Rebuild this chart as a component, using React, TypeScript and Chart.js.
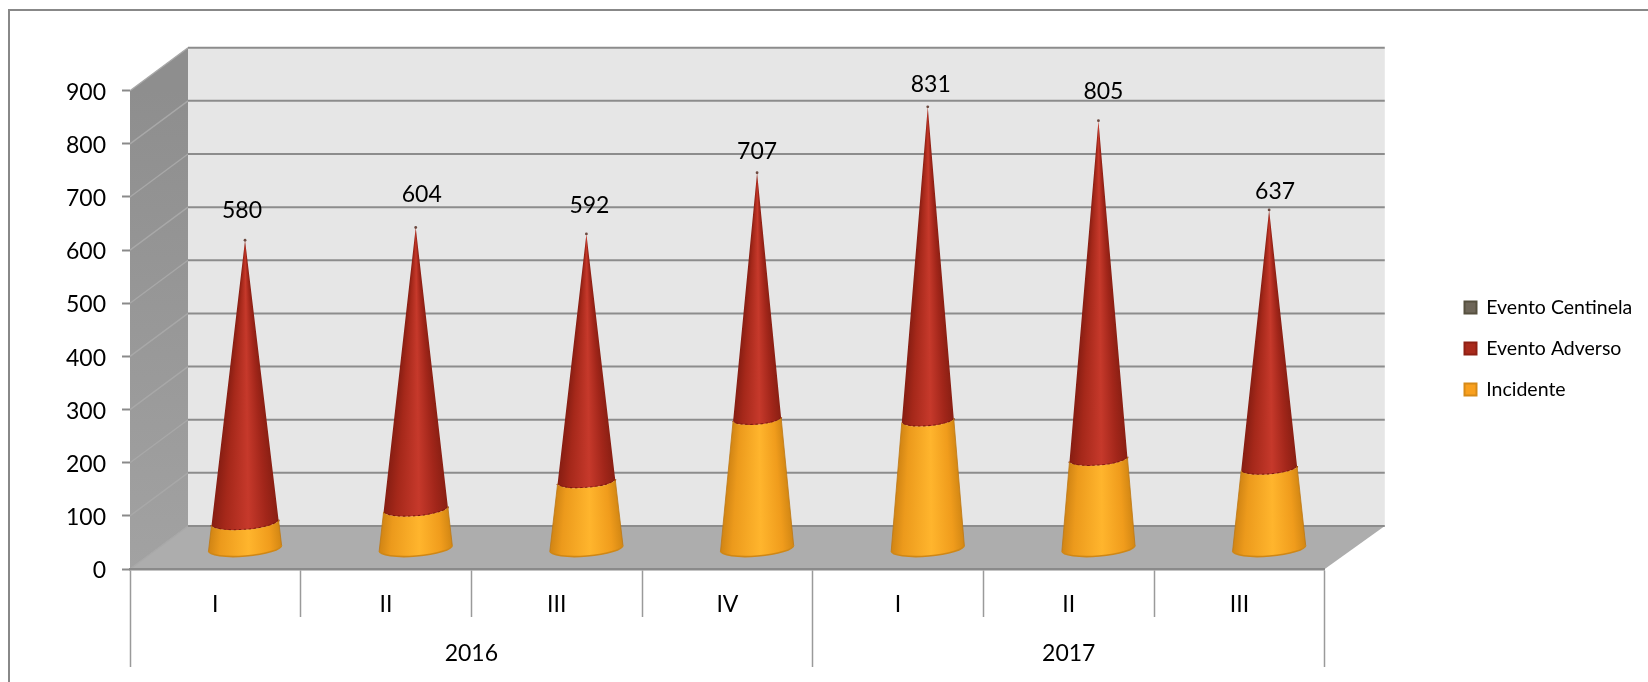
import React, { useEffect, useRef } from "react";
import { Chart, BarController, BarElement, registerables } from "chart.js";

const quarters = ["I", "II", "III", "IV", "I", "II", "III"];
const years = ["2016", "2017"];
const quartersPerYear = [4, 3];
const incidente = [49, 74, 126, 243, 241, 168, 151];
const eventoAdverso = [530, 529, 465, 463, 588, 636, 485];
const eventoCentinela = [1, 1, 1, 1, 2, 1, 1];

const FONT = "Lato, 'Open Sans', sans-serif";
const DEPTH_X = 58;
const DEPTH_Y = -43;
const MID_X = 29.7;
const MID_Y = -20.5;
const TILT = (-4.6 * Math.PI) / 180;
const FLAT = 0.22;

const RAMPS: Record<string, [number, string][]> = {
  red: [
    [0, "#861d12"],
    [0.2, "#a5281a"],
    [0.55, "#c6392b"],
    [0.82, "#a2261a"],
    [1, "#8a1f13"],
  ],
  orange: [
    [0, "#d08414"],
    [0.16, "#ec9a1c"],
    [0.55, "#ffb52d"],
    [0.85, "#f09c1c"],
    [1, "#d48814"],
  ],
};

function rimPoint(cx: number, cy: number, rx: number, ry: number, th: number) {
  const ex = rx * Math.cos(th);
  const ey = ry * Math.sin(th);
  return [cx + ex * Math.cos(TILT) - ey * Math.sin(TILT), cy + ex * Math.sin(TILT) + ey * Math.cos(TILT)];
}

class ConeElement extends BarElement {
  static id = "coneElement";
  draw(ctx: CanvasRenderingContext2D) {
    const { x, y, base, width } = (this as any).getProps(["x", "y", "base", "width"]);
    const { chart, dataset, index } = (this as any).coneInfo;
    const yScale = chart.scales.y;
    const total = chart.data.datasets.reduce((s: number, d: any) => s + d.data[index], 0);
    const zero = yScale.getPixelForValue(0);
    const apex = yScale.getPixelForValue(total);
    const R = width / 2;
    const cx = x + MID_X;
    const radius = (p: number) => R * ((p - apex) / (zero - apex));
    const r0 = radius(base);
    const r1 = Math.max(radius(y), 0);
    const y0 = base + MID_Y;
    const y1 = y + MID_Y;
    const kind = dataset.coneKind;
    ctx.save();
    if (kind === "tip") {
      ctx.fillStyle = "#6b4a40";
      ctx.beginPath();
      ctx.arc(cx, y1, 1.4, 0, Math.PI * 2);
      ctx.fill();
      ctx.restore();
      return;
    }
    // visible front of the frustum: lower rim, side, lower rim of the top
    const b1 = rimPoint(cx, y1, r1, r1 * FLAT, Math.PI);
    ctx.save();
    ctx.beginPath();
    ctx.ellipse(cx, y0, r0, r0 * FLAT, TILT, 0, Math.PI);
    ctx.lineTo(b1[0], b1[1]);
    ctx.ellipse(cx, y1, r1, r1 * FLAT, TILT, Math.PI, 0, true);
    ctx.closePath();
    ctx.clip();
    const rows0 = Math.floor(y1 - 4);
    const rows1 = Math.ceil(y0 + r0 * FLAT + 5);
    for (let row = rows0; row < rows1; row++) {
      const r = Math.max(radius(row + 0.5 - MID_Y), 0.6);
      const g = ctx.createLinearGradient(cx - r, 0, cx + r, 0);
      RAMPS[kind].forEach(([s, col]) => g.addColorStop(s, col));
      ctx.fillStyle = g;
      ctx.fillRect(cx - r - 8, row, 2 * r + 16, 1);
    }
    ctx.restore();
    // silhouette edges and the lower rim
    const a0 = rimPoint(cx, y0, r0, r0 * FLAT, 0);
    const a1 = rimPoint(cx, y1, r1, r1 * FLAT, 0);
    const b0 = rimPoint(cx, y0, r0, r0 * FLAT, Math.PI);
    if (kind === "orange") {
      ctx.strokeStyle = "rgba(190,120,20,0.8)";
      ctx.lineWidth = 1;
      ctx.beginPath();
      ctx.moveTo(a0[0], a0[1]);
      ctx.lineTo(a1[0], a1[1]);
      ctx.moveTo(b0[0], b0[1]);
      ctx.lineTo(b1[0], b1[1]);
      ctx.stroke();
    }
    ctx.beginPath();
    ctx.ellipse(cx, y0, r0, r0 * FLAT, TILT, 0, Math.PI);
    if (kind === "orange") {
      ctx.strokeStyle = "#cf8716";
      ctx.lineWidth = 1.6;
    } else {
      ctx.strokeStyle = "#7c1a10";
      ctx.lineWidth = 2.2;
      ctx.setLineDash([2.4, 2.6]);
    }
    ctx.stroke();
    ctx.restore();
  }
}

class ConeController extends BarController {
  static id = "cone";
  static defaults = { ...(BarController as any).defaults, dataElementType: "coneElement" };
  static overrides = (BarController as any).overrides;
  draw() {
    const self = this as any;
    self._cachedMeta.data.forEach((el: any, index: number) => {
      el.coneInfo = { chart: self.chart, dataset: self.getDataset(), index };
    });
    super.draw();
  }
}

Chart.register(...registerables, ConeElement as any, ConeController as any);

const box3d = {
  id: "box3d",
  beforeDraw(chart: any) {
    const { ctx, chartArea: a, scales } = chart;
    const y = scales.y;
    const { left, right, top, bottom } = a;
    ctx.save();
    ctx.fillStyle = "#ffffff";
    ctx.fillRect(0, 0, chart.width, chart.height);
    // outer frame
    ctx.strokeStyle = "#888888";
    ctx.lineWidth = 2;
    ctx.beginPath();
    ctx.moveTo(9, chart.height);
    ctx.lineTo(9, 10);
    ctx.lineTo(chart.width, 10);
    ctx.stroke();
    const bl = left + DEPTH_X;
    const br = right + DEPTH_X + 2;
    // back wall
    ctx.fillStyle = "#e6e6e6";
    ctx.fillRect(bl, top + DEPTH_Y, br - bl, bottom - top);
    // floor
    ctx.fillStyle = "#adadad";
    ctx.beginPath();
    ctx.moveTo(left, bottom);
    ctx.lineTo(bl, bottom + DEPTH_Y);
    ctx.lineTo(br, bottom + DEPTH_Y);
    ctx.lineTo(right, bottom);
    ctx.closePath();
    ctx.fill();
    // left wall
    const g = ctx.createLinearGradient(0, top, 0, bottom);
    g.addColorStop(0, "#8e8e8e");
    g.addColorStop(1, "#a2a2a2");
    ctx.fillStyle = g;
    ctx.beginPath();
    ctx.moveTo(left, top);
    ctx.lineTo(bl, top + DEPTH_Y);
    ctx.lineTo(bl, bottom + DEPTH_Y);
    ctx.lineTo(left, bottom);
    ctx.closePath();
    ctx.fill();
    // gridlines on the walls
    for (const t of y.ticks) {
      const py = y.getPixelForValue(t.value);
      ctx.strokeStyle = "#a8a8a8";
      ctx.lineWidth = 1.4;
      ctx.beginPath();
      ctx.moveTo(left, py);
      ctx.lineTo(bl, py + DEPTH_Y);
      ctx.stroke();
      ctx.strokeStyle = "#8c8c8c";
      ctx.lineWidth = 2;
      ctx.beginPath();
      ctx.moveTo(bl, py + DEPTH_Y);
      ctx.lineTo(br, py + DEPTH_Y);
      ctx.stroke();
    }
    ctx.restore();
  },
};

const coneLabels = {
  id: "coneLabels",
  afterDatasetsDraw(chart: any, _args: any, opts: any) {
    const { ctx, scales } = chart;
    const meta = chart.getDatasetMeta(0);
    ctx.save();
    ctx.font = `23px ${FONT}`;
    ctx.fillStyle = "#000000";
    ctx.textAlign = "center";
    ctx.textBaseline = "middle";
    meta.data.forEach((el: any, i: number) => {
      const total = chart.data.datasets.reduce((s: number, d: any) => s + d.data[i], 0);
      const px = el.x + MID_X + opts.nudgeX[i];
      const py = scales.y.getPixelForValue(total) + MID_Y + opts.nudgeY[i];
      ctx.fillText(String(total), px, py);
    });
    ctx.restore();
  },
};

const legendPlacer = {
  id: "legendPlacer",
  afterLayout(chart: any, _args: any, opts: any) {
    const l = chart.legend;
    l.left = opts.left;
    l.right = chart.width;
    l.top = opts.top;
    l.bottom = chart.height;
  },
};

export default function App() {
  const ref = useRef<HTMLCanvasElement | null>(null);
  useEffect(() => {
    const yearEdges = quartersPerYear.reduce((acc: number[], n) => [...acc, acc[acc.length - 1] + n], [0]);
    const yearCenters = years.map((_, i) => (yearEdges[i] + yearEdges[i + 1]) / 2);
    const chart = new Chart(ref.current as HTMLCanvasElement, {
      type: "cone" as any,
      data: {
        labels: quarters,
        datasets: [
          {
            label: "Incidente",
            data: incidente,
            coneKind: "orange",
            backgroundColor: "#f9a01e",
            borderColor: "#d68a18",
            borderWidth: 2,
          },
          {
            label: "Evento Adverso",
            data: eventoAdverso,
            coneKind: "red",
            backgroundColor: "#a92a1c",
            borderColor: "#8f2014",
            borderWidth: 2,
          },
          {
            label: "Evento Centinela",
            data: eventoCentinela,
            coneKind: "tip",
            backgroundColor: "#6e6658",
            borderColor: "#56503f",
            borderWidth: 2,
          },
        ] as any,
      },
      plugins: [box3d, coneLabels, legendPlacer],
      options: {
        responsive: false,
        animation: false,
        events: [],
        categoryPercentage: 1,
        barPercentage: 0.43,
        layout: { padding: { left: 0, top: 90.7, right: 124, bottom: 0 } },
        scales: {
          x: {
            stacked: true,
            weight: 0,
            afterFit: (s: any) => {
              s.height = 48;
            },
            border: { color: "#8a8a8a", width: 2.5 },
            grid: {
              offset: true,
              drawOnChartArea: false,
              tickLength: 48,
              tickColor: "#9a9a9a",
              tickWidth: 1.5,
            },
            ticks: {
              padding: -26,
              autoSkip: false,
              maxRotation: 0,
              color: "#000",
              font: { family: FONT, size: 23 },
            },
          },
          x2: {
            type: "linear",
            position: "bottom",
            weight: 1,
            min: 0,
            max: quarters.length,
            offset: false,
            afterFit: (s: any) => {
              s.height = 65;
            },
            afterBuildTicks: (s: any) => {
              s.ticks = [...yearEdges, ...yearCenters].sort((a, b) => a - b).map((value) => ({ value }));
            },
            border: { display: false },
            grid: {
              offset: false,
              drawOnChartArea: false,
              tickLength: 50,
              tickWidth: 1.5,
              tickColor: (c: any) => (yearEdges.includes(c.tick?.value) ? "#9a9a9a" : "rgba(0,0,0,0)"),
            },
            ticks: {
              padding: -27,
              autoSkip: false,
              maxRotation: 0,
              color: "#000",
              font: { family: FONT, size: 23 },
              callback: (v: any) => {
                const i = yearCenters.indexOf(v);
                return i >= 0 ? years[i] : "";
              },
            },
          },
          y: {
            stacked: true,
            min: 0,
            max: 900,
            afterFit: (s: any) => {
              s.width = 130;
              if (!s._labelsLowered) {
                s._labelsLowered = true;
                const compute = s._computeLabelItems.bind(s);
                s._computeLabelItems = (area: any) =>
                  compute(area).map((item: any) => {
                    item.options.translation[1] += 1.8;
                    return item;
                  });
              }
            },
            border: { display: false },
            grid: {
              drawOnChartArea: false,
              tickLength: 8,
              tickColor: "#8a8a8a",
              tickWidth: 2,
            },
            ticks: {
              stepSize: 100,
              padding: 16,
              color: "#000",
              font: { family: FONT, size: 23 },
            },
          },
        },
        plugins: {
          title: { display: false },
          tooltip: { enabled: false },
          legend: {
            display: true,
            position: "right",
            align: "start",
            reverse: true,
            labels: {
              boxWidth: 12,
              boxHeight: 12,
              padding: 21.5,
              color: "#000",
              font: { family: FONT, size: 19.5 },
            },
          },
          coneLabels: {
            nudgeX: [-3, 6, 3, 0, 3, 5, 6],
            nudgeY: [-29.5, -32.5, -28.5, -21.5, -22.5, -29.5, -18.5],
          },
          legendPlacer: { left: 1443, top: 276.25 },
        } as any,
      } as any,
    });
    return () => chart.destroy();
  }, []);
  return (
    <div style={{ position: "absolute", left: 0, top: 0, width: 1648, height: 682 }}>
      <canvas ref={ref} width={1648} height={682} style={{ display: "block" }} />
    </div>
  );
}
